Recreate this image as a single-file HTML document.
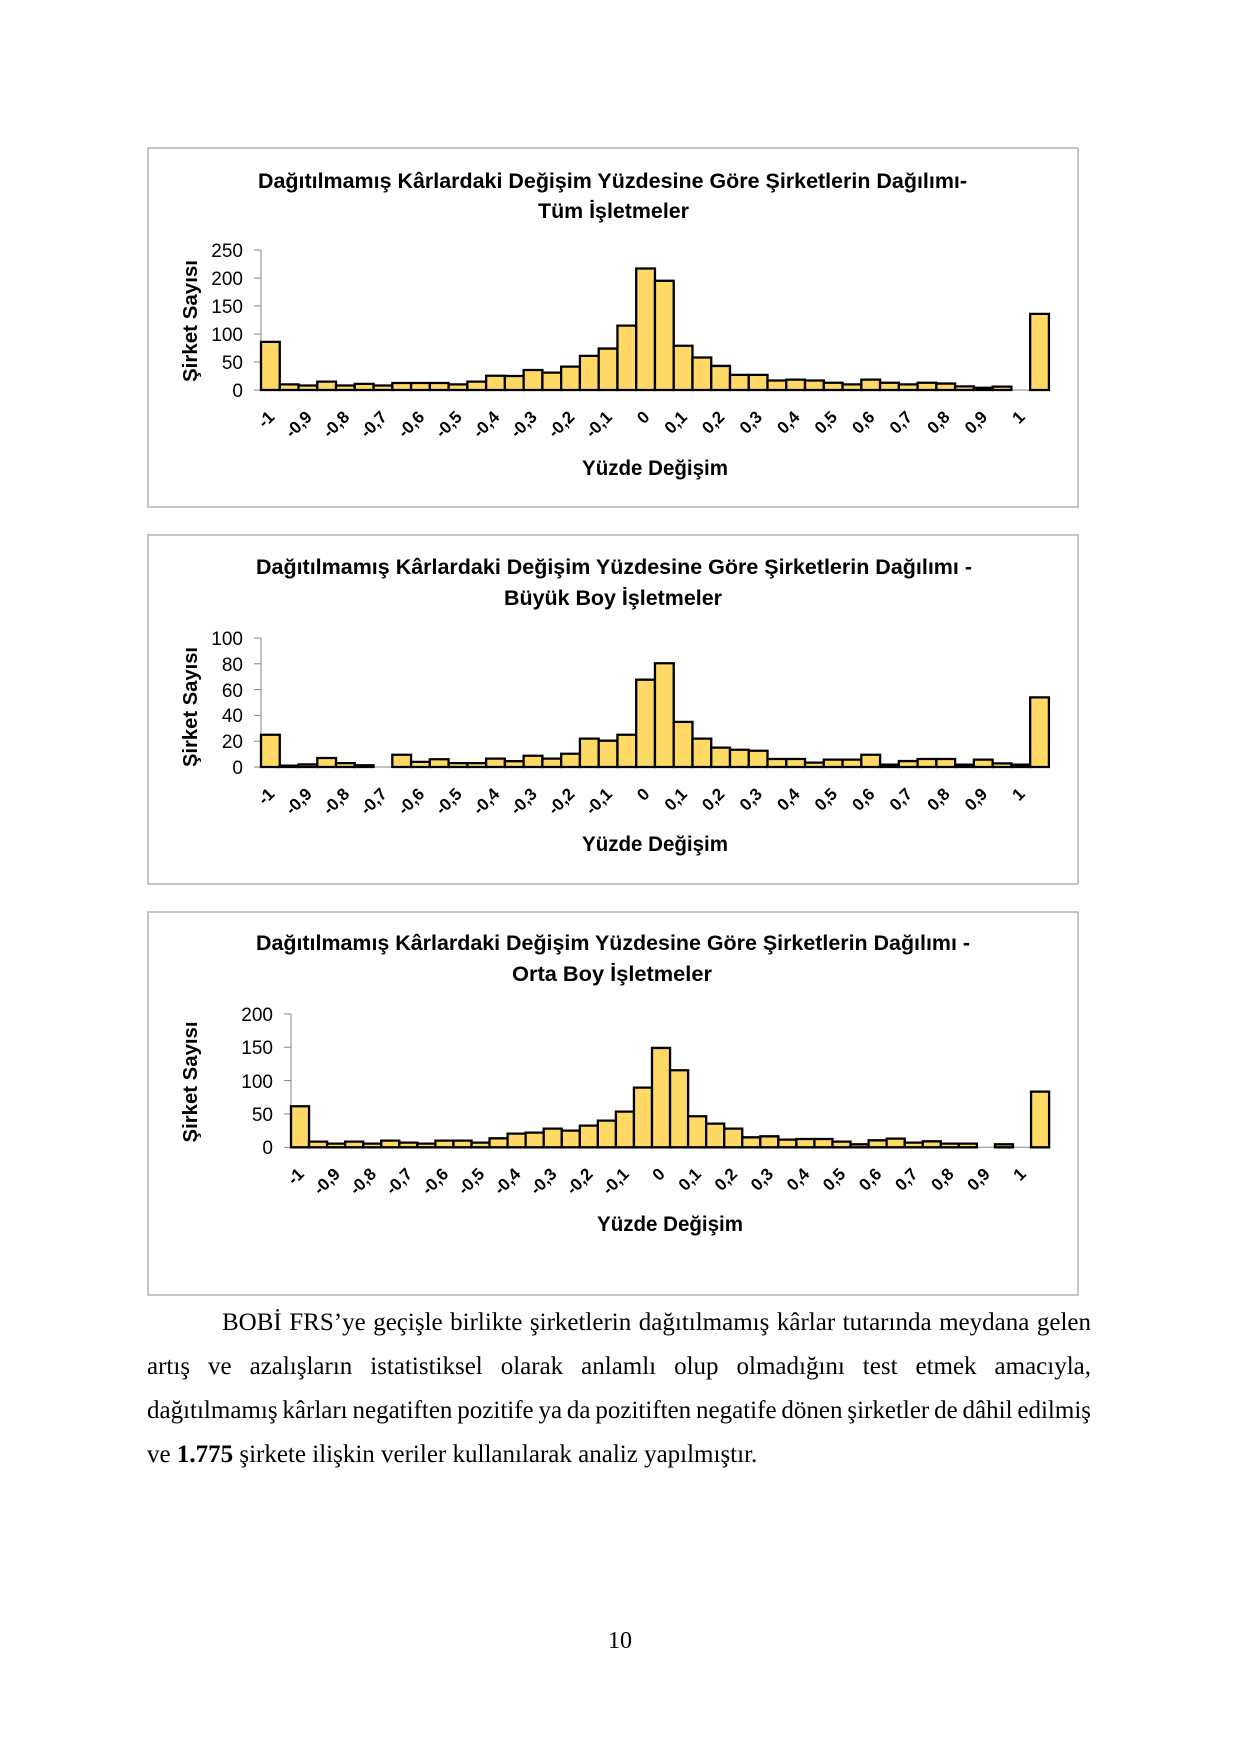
<!DOCTYPE html>
<html>
<head>
<meta charset="utf-8">
<style>
  html, body { margin:0; padding:0; background:#fff; }
  body { width:1240px; height:1754px; position:relative; overflow:hidden; }
  svg { position:absolute; left:0; top:0; }
  .bars rect { fill:#FFD966; stroke:#000; stroke-width:2.3; vector-effect:non-scaling-stroke; }
  .t { font-family:"Liberation Sans", Arial, sans-serif; font-weight:bold; fill:#000; }
  .tick { font-family:"Liberation Sans", Arial, sans-serif; font-size:19px; fill:#000; }
  .xl { font-family:"Liberation Sans", Arial, sans-serif; font-weight:bold; font-size:17px; fill:#000; }
  .ln { position:absolute; left:147px; width:944px; font-family:"Liberation Serif","Times New Roman",serif; font-size:25px; line-height:44px; color:#000; white-space:nowrap; }
  .j { text-align:justify; text-align-last:justify; white-space:normal; }
</style>
</head>
<body>
<svg width="1240" height="1754" viewBox="0 0 1240 1754" xmlns="http://www.w3.org/2000/svg">
  <!-- ================= CHART 1 ================= -->
  <rect x="148" y="148" width="930" height="359" fill="none" stroke="#A6A6A6" stroke-width="1.3"/>
  <text class="t" font-size="21" x="258" y="188" textLength="709" lengthAdjust="spacingAndGlyphs">Dağıtılmamış Kârlardaki Değişim Yüzdesine Göre Şirketlerin Dağılımı-</text>
  <text class="t" font-size="21" x="538" y="218" textLength="151" lengthAdjust="spacingAndGlyphs">Tüm İşletmeler</text>
  <text class="t" font-size="20" transform="translate(197,321) rotate(-90)" text-anchor="middle" textLength="122" lengthAdjust="spacingAndGlyphs">Şirket Sayısı</text>
  <g stroke="#868686" stroke-width="1">
    <line x1="261" y1="250" x2="261" y2="390"/>
    <line x1="261" y1="390" x2="1049" y2="390"/>
    <line x1="254" y1="250" x2="261" y2="250"/>
    <line x1="254" y1="278" x2="261" y2="278"/>
    <line x1="254" y1="306" x2="261" y2="306"/>
    <line x1="254" y1="334" x2="261" y2="334"/>
    <line x1="254" y1="362" x2="261" y2="362"/>
    <line x1="254" y1="390" x2="261" y2="390"/>
  </g>
  <g class="tick" text-anchor="end">
    <text x="243" y="257">250</text>
    <text x="243" y="285">200</text>
    <text x="243" y="313">150</text>
    <text x="243" y="341">100</text>
    <text x="243" y="369">50</text>
    <text x="243" y="397">0</text>
  </g>
  <g class="bars" transform="translate(261,390) scale(18.76,-0.56)">
    <rect x="0" y="0" width="1" height="86"/>
    <rect x="1" y="0" width="1" height="10"/>
    <rect x="2" y="0" width="1" height="8"/>
    <rect x="3" y="0" width="1" height="15"/>
    <rect x="4" y="0" width="1" height="8"/>
    <rect x="5" y="0" width="1" height="11"/>
    <rect x="6" y="0" width="1" height="8"/>
    <rect x="7" y="0" width="1" height="12.5"/>
    <rect x="8" y="0" width="1" height="12.5"/>
    <rect x="9" y="0" width="1" height="12.5"/>
    <rect x="10" y="0" width="1" height="10"/>
    <rect x="11" y="0" width="1" height="15"/>
    <rect x="12" y="0" width="1" height="25.5"/>
    <rect x="13" y="0" width="1" height="25"/>
    <rect x="14" y="0" width="1" height="35.7"/>
    <rect x="15" y="0" width="1" height="31"/>
    <rect x="16" y="0" width="1" height="41.7"/>
    <rect x="17" y="0" width="1" height="61"/>
    <rect x="18" y="0" width="1" height="74"/>
    <rect x="19" y="0" width="1" height="115"/>
    <rect x="20" y="0" width="1" height="217"/>
    <rect x="21" y="0" width="1" height="195"/>
    <rect x="22" y="0" width="1" height="79"/>
    <rect x="23" y="0" width="1" height="58"/>
    <rect x="24" y="0" width="1" height="43"/>
    <rect x="25" y="0" width="1" height="27"/>
    <rect x="26" y="0" width="1" height="27"/>
    <rect x="27" y="0" width="1" height="17"/>
    <rect x="28" y="0" width="1" height="18.5"/>
    <rect x="29" y="0" width="1" height="17"/>
    <rect x="30" y="0" width="1" height="13"/>
    <rect x="31" y="0" width="1" height="10"/>
    <rect x="32" y="0" width="1" height="18.5"/>
    <rect x="33" y="0" width="1" height="13"/>
    <rect x="34" y="0" width="1" height="10"/>
    <rect x="35" y="0" width="1" height="13"/>
    <rect x="36" y="0" width="1" height="11.5"/>
    <rect x="37" y="0" width="1" height="6.5"/>
    <rect x="38" y="0" width="1" height="4"/>
    <rect x="39" y="0" width="1" height="6"/>
    <rect x="41" y="0" width="1" height="136"/>
  </g>
  <g class="xl" text-anchor="end">
    <text transform="translate(275.4,418) rotate(-45)">-1</text>
    <text transform="translate(312.9,418) rotate(-45)">-0,9</text>
    <text transform="translate(350.4,418) rotate(-45)">-0,8</text>
    <text transform="translate(387.9,418) rotate(-45)">-0,7</text>
    <text transform="translate(425.5,418) rotate(-45)">-0,6</text>
    <text transform="translate(463.0,418) rotate(-45)">-0,5</text>
    <text transform="translate(500.5,418) rotate(-45)">-0,4</text>
    <text transform="translate(538.0,418) rotate(-45)">-0,3</text>
    <text transform="translate(575.6,418) rotate(-45)">-0,2</text>
    <text transform="translate(613.1,418) rotate(-45)">-0,1</text>
    <text transform="translate(650.6,418) rotate(-45)">0</text>
    <text transform="translate(688.1,418) rotate(-45)">0,1</text>
    <text transform="translate(725.6,418) rotate(-45)">0,2</text>
    <text transform="translate(763.2,418) rotate(-45)">0,3</text>
    <text transform="translate(800.7,418) rotate(-45)">0,4</text>
    <text transform="translate(838.2,418) rotate(-45)">0,5</text>
    <text transform="translate(875.7,418) rotate(-45)">0,6</text>
    <text transform="translate(913.2,418) rotate(-45)">0,7</text>
    <text transform="translate(950.8,418) rotate(-45)">0,8</text>
    <text transform="translate(988.3,418) rotate(-45)">0,9</text>
    <text transform="translate(1025.8,418) rotate(-45)">1</text>
  </g>
  <text class="t" font-size="21" x="582" y="475" textLength="146" lengthAdjust="spacingAndGlyphs">Yüzde Değişim</text>

  <!-- ================= CHART 2 ================= -->
  <rect x="148" y="535" width="930" height="349" fill="none" stroke="#A6A6A6" stroke-width="1.3"/>
  <text class="t" font-size="21" x="256" y="574" textLength="716" lengthAdjust="spacingAndGlyphs">Dağıtılmamış Kârlardaki Değişim Yüzdesine Göre Şirketlerin Dağılımı -</text>
  <text class="t" font-size="21" x="504" y="605" textLength="218" lengthAdjust="spacingAndGlyphs">Büyük Boy İşletmeler</text>
  <text class="t" font-size="20" transform="translate(197,707) rotate(-90)" text-anchor="middle" textLength="120" lengthAdjust="spacingAndGlyphs">Şirket Sayısı</text>
  <g stroke="#868686" stroke-width="1">
    <line x1="261" y1="638" x2="261" y2="767"/>
    <line x1="261" y1="767" x2="1049" y2="767"/>
    <line x1="254" y1="638" x2="261" y2="638"/>
    <line x1="254" y1="663.8" x2="261" y2="663.8"/>
    <line x1="254" y1="689.6" x2="261" y2="689.6"/>
    <line x1="254" y1="715.4" x2="261" y2="715.4"/>
    <line x1="254" y1="741.2" x2="261" y2="741.2"/>
    <line x1="254" y1="767" x2="261" y2="767"/>
  </g>
  <g class="tick" text-anchor="end">
    <text x="243" y="645">100</text>
    <text x="243" y="671">80</text>
    <text x="243" y="697">60</text>
    <text x="243" y="722">40</text>
    <text x="243" y="748">20</text>
    <text x="243" y="774">0</text>
  </g>
  <g class="bars" transform="translate(261,767) scale(18.76,-1.29)">
    <rect x="0" y="0" width="1" height="25"/>
    <rect x="1" y="0" width="1" height="1"/>
    <rect x="2" y="0" width="1" height="2"/>
    <rect x="3" y="0" width="1" height="7"/>
    <rect x="4" y="0" width="1" height="3"/>
    <rect x="5" y="0" width="1" height="1.3"/>
    <rect x="7" y="0" width="1" height="9.5"/>
    <rect x="8" y="0" width="1" height="4"/>
    <rect x="9" y="0" width="1" height="6"/>
    <rect x="10" y="0" width="1" height="3"/>
    <rect x="11" y="0" width="1" height="3"/>
    <rect x="12" y="0" width="1" height="6.5"/>
    <rect x="13" y="0" width="1" height="4.5"/>
    <rect x="14" y="0" width="1" height="8.7"/>
    <rect x="15" y="0" width="1" height="6.5"/>
    <rect x="16" y="0" width="1" height="10.3"/>
    <rect x="17" y="0" width="1" height="22"/>
    <rect x="18" y="0" width="1" height="20.4"/>
    <rect x="19" y="0" width="1" height="25"/>
    <rect x="20" y="0" width="1" height="67.7"/>
    <rect x="21" y="0" width="1" height="80.4"/>
    <rect x="22" y="0" width="1" height="35"/>
    <rect x="23" y="0" width="1" height="22"/>
    <rect x="24" y="0" width="1" height="15"/>
    <rect x="25" y="0" width="1" height="13.4"/>
    <rect x="26" y="0" width="1" height="12.6"/>
    <rect x="27" y="0" width="1" height="6.2"/>
    <rect x="28" y="0" width="1" height="6.2"/>
    <rect x="29" y="0" width="1" height="3.4"/>
    <rect x="30" y="0" width="1" height="5.7"/>
    <rect x="31" y="0" width="1" height="5.7"/>
    <rect x="32" y="0" width="1" height="9.5"/>
    <rect x="33" y="0" width="1" height="1.8"/>
    <rect x="34" y="0" width="1" height="4.6"/>
    <rect x="35" y="0" width="1" height="6.2"/>
    <rect x="36" y="0" width="1" height="6.2"/>
    <rect x="37" y="0" width="1" height="1.8"/>
    <rect x="38" y="0" width="1" height="5.7"/>
    <rect x="39" y="0" width="1" height="2.8"/>
    <rect x="40" y="0" width="1" height="1.8"/>
    <rect x="41" y="0" width="1" height="54"/>
  </g>
  <g class="xl" text-anchor="end">
    <text transform="translate(275.4,795) rotate(-45)">-1</text>
    <text transform="translate(312.9,795) rotate(-45)">-0,9</text>
    <text transform="translate(350.4,795) rotate(-45)">-0,8</text>
    <text transform="translate(387.9,795) rotate(-45)">-0,7</text>
    <text transform="translate(425.5,795) rotate(-45)">-0,6</text>
    <text transform="translate(463.0,795) rotate(-45)">-0,5</text>
    <text transform="translate(500.5,795) rotate(-45)">-0,4</text>
    <text transform="translate(538.0,795) rotate(-45)">-0,3</text>
    <text transform="translate(575.6,795) rotate(-45)">-0,2</text>
    <text transform="translate(613.1,795) rotate(-45)">-0,1</text>
    <text transform="translate(650.6,795) rotate(-45)">0</text>
    <text transform="translate(688.1,795) rotate(-45)">0,1</text>
    <text transform="translate(725.6,795) rotate(-45)">0,2</text>
    <text transform="translate(763.2,795) rotate(-45)">0,3</text>
    <text transform="translate(800.7,795) rotate(-45)">0,4</text>
    <text transform="translate(838.2,795) rotate(-45)">0,5</text>
    <text transform="translate(875.7,795) rotate(-45)">0,6</text>
    <text transform="translate(913.2,795) rotate(-45)">0,7</text>
    <text transform="translate(950.8,795) rotate(-45)">0,8</text>
    <text transform="translate(988.3,795) rotate(-45)">0,9</text>
    <text transform="translate(1025.8,795) rotate(-45)">1</text>
  </g>
  <text class="t" font-size="21" x="582" y="851" textLength="146" lengthAdjust="spacingAndGlyphs">Yüzde Değişim</text>

  <!-- ================= CHART 3 ================= -->
  <rect x="148" y="912" width="930" height="383" fill="none" stroke="#A6A6A6" stroke-width="1.3"/>
  <text class="t" font-size="21" x="256" y="950" textLength="714" lengthAdjust="spacingAndGlyphs">Dağıtılmamış Kârlardaki Değişim Yüzdesine Göre Şirketlerin Dağılımı -</text>
  <text class="t" font-size="21" x="512" y="981" textLength="200" lengthAdjust="spacingAndGlyphs">Orta Boy İşletmeler</text>
  <text class="t" font-size="20" transform="translate(197,1082) rotate(-90)" text-anchor="middle" textLength="121" lengthAdjust="spacingAndGlyphs">Şirket Sayısı</text>
  <g stroke="#868686" stroke-width="1">
    <line x1="291" y1="1013.9" x2="291" y2="1147.3"/>
    <line x1="291" y1="1147.3" x2="1049" y2="1147.3"/>
    <line x1="284" y1="1013.9" x2="291" y2="1013.9"/>
    <line x1="284" y1="1047.25" x2="291" y2="1047.25"/>
    <line x1="284" y1="1080.6" x2="291" y2="1080.6"/>
    <line x1="284" y1="1113.95" x2="291" y2="1113.95"/>
    <line x1="284" y1="1147.3" x2="291" y2="1147.3"/>
  </g>
  <g class="tick" text-anchor="end">
    <text x="273" y="1021">200</text>
    <text x="273" y="1054">150</text>
    <text x="273" y="1088">100</text>
    <text x="273" y="1121">50</text>
    <text x="273" y="1154">0</text>
  </g>
  <g class="bars" transform="translate(291,1147.3) scale(18.05,-0.667)">
    <rect x="0" y="0" width="1" height="61.5"/>
    <rect x="1" y="0" width="1" height="8.5"/>
    <rect x="2" y="0" width="1" height="5.5"/>
    <rect x="3" y="0" width="1" height="8.5"/>
    <rect x="4" y="0" width="1" height="5.5"/>
    <rect x="5" y="0" width="1" height="10"/>
    <rect x="6" y="0" width="1" height="7"/>
    <rect x="7" y="0" width="1" height="5.5"/>
    <rect x="8" y="0" width="1" height="10"/>
    <rect x="9" y="0" width="1" height="10"/>
    <rect x="10" y="0" width="1" height="7"/>
    <rect x="11" y="0" width="1" height="13.5"/>
    <rect x="12" y="0" width="1" height="20.5"/>
    <rect x="13" y="0" width="1" height="22"/>
    <rect x="14" y="0" width="1" height="28"/>
    <rect x="15" y="0" width="1" height="25"/>
    <rect x="16" y="0" width="1" height="32.5"/>
    <rect x="17" y="0" width="1" height="40"/>
    <rect x="18" y="0" width="1" height="53.5"/>
    <rect x="19" y="0" width="1" height="89.5"/>
    <rect x="20" y="0" width="1" height="149"/>
    <rect x="21" y="0" width="1" height="115.5"/>
    <rect x="22" y="0" width="1" height="46.5"/>
    <rect x="23" y="0" width="1" height="35.5"/>
    <rect x="24" y="0" width="1" height="28"/>
    <rect x="25" y="0" width="1" height="15"/>
    <rect x="26" y="0" width="1" height="16.5"/>
    <rect x="27" y="0" width="1" height="11.5"/>
    <rect x="28" y="0" width="1" height="12.5"/>
    <rect x="29" y="0" width="1" height="12.5"/>
    <rect x="30" y="0" width="1" height="8.5"/>
    <rect x="31" y="0" width="1" height="4.5"/>
    <rect x="32" y="0" width="1" height="10.5"/>
    <rect x="33" y="0" width="1" height="13"/>
    <rect x="34" y="0" width="1" height="7"/>
    <rect x="35" y="0" width="1" height="9"/>
    <rect x="36" y="0" width="1" height="5.5"/>
    <rect x="37" y="0" width="1" height="5.5"/>
    <rect x="39" y="0" width="1" height="4.5"/>
    <rect x="41" y="0" width="1" height="83.5"/>
  </g>
  <g class="xl" text-anchor="end">
    <text transform="translate(305,1175) rotate(-45)">-1</text>
    <text transform="translate(341.1,1175) rotate(-45)">-0,9</text>
    <text transform="translate(377.2,1175) rotate(-45)">-0,8</text>
    <text transform="translate(413.3,1175) rotate(-45)">-0,7</text>
    <text transform="translate(449.4,1175) rotate(-45)">-0,6</text>
    <text transform="translate(485.5,1175) rotate(-45)">-0,5</text>
    <text transform="translate(521.6,1175) rotate(-45)">-0,4</text>
    <text transform="translate(557.7,1175) rotate(-45)">-0,3</text>
    <text transform="translate(593.8,1175) rotate(-45)">-0,2</text>
    <text transform="translate(629.9,1175) rotate(-45)">-0,1</text>
    <text transform="translate(666,1175) rotate(-45)">0</text>
    <text transform="translate(702.1,1175) rotate(-45)">0,1</text>
    <text transform="translate(738.2,1175) rotate(-45)">0,2</text>
    <text transform="translate(774.3,1175) rotate(-45)">0,3</text>
    <text transform="translate(810.4,1175) rotate(-45)">0,4</text>
    <text transform="translate(846.5,1175) rotate(-45)">0,5</text>
    <text transform="translate(882.6,1175) rotate(-45)">0,6</text>
    <text transform="translate(918.7,1175) rotate(-45)">0,7</text>
    <text transform="translate(954.8,1175) rotate(-45)">0,8</text>
    <text transform="translate(990.9,1175) rotate(-45)">0,9</text>
    <text transform="translate(1027,1175) rotate(-45)">1</text>
  </g>
  <text class="t" font-size="21" x="597" y="1231" textLength="146" lengthAdjust="spacingAndGlyphs">Yüzde Değişim</text>

  <!-- page number -->
  <text x="620" y="1648" text-anchor="middle" font-family="Liberation Serif, Times New Roman, serif" font-size="24" fill="#000">10</text>
</svg>

<div class="ln j" style="top:1301px;"><span style="display:inline-block;width:75px;"></span>BOBİ FRS’ye geçişle birlikte şirketlerin dağıtılmamış kârlar tutarında meydana gelen</div>
<div class="ln j" style="top:1345px;">artış ve azalışların istatistiksel olarak anlamlı olup olmadığını test etmek amacıyla,</div>
<div class="ln j" style="top:1389px;word-spacing:-3px;">dağıtılmamış kârları negatiften pozitife ya da pozitiften negatife dönen şirketler de dâhil edilmiş</div>
<div class="ln" style="top:1433px;">ve <b>1.775</b> şirkete ilişkin veriler kullanılarak analiz yapılmıştır.</div>
</body>
</html>
